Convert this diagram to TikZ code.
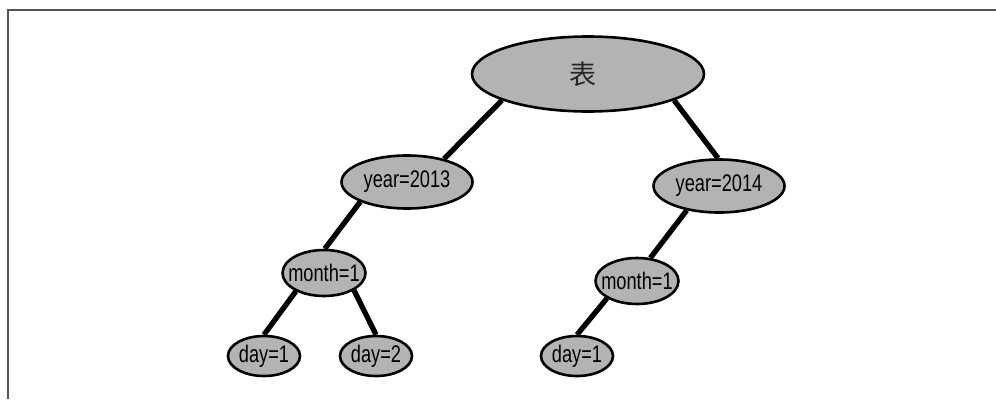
\documentclass[tikz,border=0pt]{standalone}
\usepackage{fontspec}
\setmainfont[FakeStretch=0.76]{Liberation Sans}
\newfontfamily\cjk{Noto Sans CJK SC}
\usetikzlibrary{shapes.geometric,backgrounds}
\definecolor{nodefill}{HTML}{B3B3B3}
\definecolor{framegray}{HTML}{555555}
\newcommand\zc[1]{\makebox[0pt]{#1}}
\begin{document}
\begin{tikzpicture}[x=1pt,y=-1pt,
  tnode/.style={ellipse,draw=black,line width=2.6pt,fill=nodefill,inner sep=0pt,
    font=\fontsize{24}{28}\selectfont,text=black},
  bignode/.style={tnode,minimum width=232pt,minimum height=75pt},
  yearnode/.style={tnode,minimum width=131pt,minimum height=53pt},
  monthnode/.style={tnode,minimum width=83pt,minimum height=46pt},
  daynode/.style={tnode,minimum width=72pt,minimum height=40pt},
  edge/.style={line width=5.3pt}]
\useasboundingbox (0,0) rectangle (996,399);
\draw[framegray,line width=1.3pt] (996,10) -- (8,10) -- (8,399);

\node[bignode] (root) at (588,74) {\zc{\hspace*{-10pt}\cjk\fontsize{27}{30}\selectfont\color{black!85}表}};
\node[yearnode] (y13) at (407,182) {\zc{year=2013}};
\node[yearnode] (y14) at (719,186) {\zc{year=2014}};
\node[monthnode] (m1) at (324,273) {\zc{month=1}};
\node[monthnode] (m2) at (637,281) {\zc{month=1}};
\node[daynode] (d1) at (264,356) {\zc{day=1}};
\node[daynode] (d2) at (376,356) {\zc{day=2}};
\node[daynode] (d3) at (577,356) {\zc{day=1}};

\begin{scope}[on background layer]
\draw[edge] (root.197) -- (y13.32);
\draw[edge] (root.343) -- (y14.92);
\draw[edge] (y13.203) -- (m1.88);
\draw[edge] (y14.217) -- (m2.60);
\draw[edge] (m1.213) -- (d1.90);
\draw[edge] (m1.330) -- (d2.90);
\draw[edge] (m2.210) -- (d3.90);
\end{scope}
\end{tikzpicture}
\end{document}
